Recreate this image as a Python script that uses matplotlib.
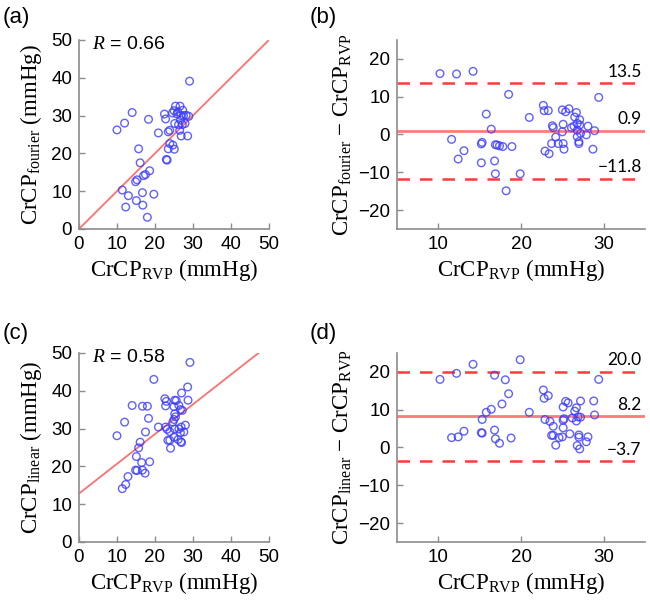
import numpy as np
import matplotlib
matplotlib.use("Agg")
import matplotlib.pyplot as plt

plt.rcParams['font.family'] = ['Liberation Sans', 'DejaVu Sans']
plt.rcParams['mathtext.fontset'] = 'custom'
plt.rcParams['mathtext.rm'] = 'Liberation Serif'
plt.rcParams['mathtext.it'] = 'Liberation Serif:italic'

# (a) CrCP_RVP vs CrCP_fourier
a_rvp = [29.1, 10.0, 12.0, 14.0, 18.3, 15.7, 16.1, 14.9, 15.3, 17.0, 17.5, 18.6,
         11.4, 13.0, 12.3, 15.1, 16.7, 16.8, 19.7, 18.0, 20.9, 22.5, 22.8, 23.0,
         23.2, 23.5, 23.9, 24.7, 25.1, 23.5, 23.9, 25.0, 25.4, 26.6, 25.8, 25.2,
         26.2, 26.7, 26.5, 26.9, 27.2, 27.5, 27.9, 28.2, 28.9, 28.6, 24.6, 26.0,
         26.8, 27.3]
a_fourier = [39.1, 26.2, 28.0, 30.8, 29.0, 21.2, 17.5, 12.5, 13.0, 14.1, 14.4, 15.4,
             10.3, 8.8, 5.8, 7.5, 9.6, 6.3, 9.2, 3.1, 25.4, 30.4, 29.1, 18.4,
             18.2, 21.2, 22.6, 22.2, 21.1, 25.7, 26.1, 31.3, 32.5, 32.5, 30.4, 27.9,
             27.6, 28.8, 26.1, 24.6, 27.6, 30.0, 27.9, 30.1, 29.8, 24.6, 30.7, 31.0,
             30.0, 31.4]

# (b) Bland-Altman, fourier
b_rvp = [10.2, 12.2, 14.2, 18.5, 29.4, 11.6, 12.4, 13.1, 15.2, 15.2, 15.3, 15.8,
         16.4, 16.8, 16.9, 16.9, 17.1, 17.4, 17.8, 18.2, 18.9, 19.9, 21.0, 22.7,
         22.8, 23.3, 22.9, 23.4, 23.8, 23.9, 23.7, 24.2, 24.5, 25.0, 25.4, 25.8,
         25.1, 25.1, 25.2, 25.0, 26.1, 26.4, 26.7, 26.5, 27.1, 26.8, 27.1, 26.8,
         26.8, 27.0, 27.0, 27.2, 27.9, 28.1, 28.9, 28.7]
b_diff = [16.1, 16.0, 16.7, 10.6, 9.8, -1.3, -6.5, -4.3, -7.5, -2.5, -2.1, 5.4,
          1.4, -7.0, -10.4, -2.7, -2.8, -3.0, -3.2, -14.9, -3.2, -10.4, 4.5, 7.7,
          6.3, 6.3, -4.4, -5.1, 2.3, 1.8, -2.4, -0.7, -2.4, 6.5, 6.0, 6.8,
          2.7, -2.4, -3.9, 0.7, 1.8, 2.2, 5.8, 4.6, 3.9, 2.9, 2.5, 1.1,
          -0.6, -1.9, -2.4, 0.3, -0.1, 2.2, 1.0, -3.9]
b_mean, b_upper, b_lower = 0.9, 13.5, -11.8

# (c) CrCP_RVP vs CrCP_linear
c_rvp = [29.2, 19.7, 14.0, 16.7, 18.0, 12.0, 10.0, 18.3, 17.5, 16.1, 15.7, 15.1,
         16.5, 18.6, 14.9, 15.3, 16.7, 17.4, 12.9, 12.3, 11.4, 20.9, 22.6, 23.0,
         22.8, 25.2, 25.6, 26.3, 26.7, 27.2, 27.0, 28.6, 28.7, 25.0, 25.4, 25.0,
         24.7, 22.8, 23.2, 23.9, 25.2, 26.3, 26.9, 28.0, 27.6, 23.4, 23.9, 24.1,
         25.0, 26.1, 26.8, 27.0, 25.2, 26.7]
c_linear = [47.5, 43.0, 36.1, 35.9, 35.9, 31.7, 28.1, 32.7, 29.1, 26.4, 24.9, 22.6,
            21.0, 21.2, 19.0, 18.9, 19.0, 18.2, 17.3, 15.2, 14.1, 30.4, 37.9, 37.2,
            36.0, 37.5, 37.4, 36.1, 35.0, 34.8, 39.4, 41.0, 37.5, 35.8, 33.1, 32.4,
            31.7, 30.4, 29.8, 29.2, 29.9, 29.9, 30.4, 30.9, 29.1, 26.9, 26.9, 24.8,
            27.7, 27.1, 26.5, 26.3, 33.9, 28.9]

# (d) Bland-Altman, linear
d_rvp = [10.2, 12.2, 14.2, 19.9, 16.8, 18.1, 18.5, 17.7, 16.4, 15.8, 15.3, 11.6,
         12.4, 13.1, 15.2, 15.3, 16.8, 16.9, 17.4, 18.8, 21.0, 22.7, 22.8, 23.3,
         22.9, 23.5, 23.9, 23.7, 23.9, 24.2, 24.6, 25.0, 25.1, 25.1, 25.2, 25.1,
         25.4, 25.7, 25.9, 26.5, 26.7, 26.2, 26.7, 26.9, 27.2, 27.2, 27.0, 27.0,
         26.8, 27.1, 27.9, 28.1, 28.8, 28.9, 29.4]
d_diff = [18.0, 19.6, 22.0, 23.2, 19.1, 17.9, 14.2, 11.5, 10.1, 9.3, 7.4, 2.6,
          2.8, 4.3, 3.9, 3.8, 4.6, 2.3, 1.1, 2.5, 9.3, 15.2, 13.0, 13.7,
          7.4, 6.9, 5.6, 3.2, 3.2, 0.6, 2.6, 2.8, 5.2, 7.2, 7.6, 10.7,
          12.2, 11.8, 3.6, 9.6, 10.5, 7.8, 7.0, 8.1, 8.0, 12.3, 3.3, 2.7,
          0.5, -0.4, 1.5, 2.8, 12.3, 8.6, 18.0]
d_mean, d_upper, d_lower = 8.2, 20.0, -3.7

# fitted lines shown in the scatter panels (intercept, slope)
a_line = (0.0, 1.0)
c_line = (12.8, 0.787)

SPINE = '#8c8c8c'
SERIF = ['Liberation Serif', 'DejaVu Serif']
PT = dict(marker='o', s=30, facecolors='none', edgecolors='#3a3aff',
          linewidths=1.0, alpha=0.8, zorder=3)


def style_axes(ax):
    for side in ('top', 'right'):
        ax.spines[side].set_visible(False)
    for side in ('left', 'bottom'):
        ax.spines[side].set_color(SPINE)
        ax.spines[side].set_linewidth(1.2)
    ax.tick_params(direction='in', length=4, width=1, color=SPINE,
                   labelsize=13.5, pad=5)


def scatter_panel(ax, x, y, line, r_text, ylab):
    ax.scatter(x, y, **PT)
    xs = np.array([0, 50])
    ax.plot(xs, line[0] + line[1] * xs, color='#ff7070', lw=1.3, zorder=2)
    ax.set_xlim(0, 50)
    ax.set_ylim(0, 50)
    ax.set_xticks(range(0, 51, 10))
    ax.set_yticks(range(0, 51, 10))
    ax.text(3.5, 48.8, r_text, fontsize=14, va='center', ha='left')
    ax.set_ylabel(ylab, fontsize=16.5, labelpad=5, family=SERIF)
    ax.set_xlabel(r'$\mathrm{CrCP_{RVP}}$ (mmHg)', fontsize=16.5,
                  labelpad=3, family=SERIF)
    style_axes(ax)


def ba_panel(ax, x, d, mean, upper, lower, ylab):
    ax.scatter(x, d, **PT)
    ax.axhline(mean, color='#ff7a7a', lw=2.0, zorder=2)
    ax.axhline(upper, color='#ff3b3b', lw=1.8, ls=(0, (5, 4)), zorder=2)
    ax.axhline(lower, color='#ff3b3b', lw=1.8, ls=(0, (5, 4)), zorder=2)
    for v in (upper, mean, lower):
        lab = ('%.1f' % v).replace('-', '\u2212')
        ax.text(34.6, v + 1.0, lab, ha='right', va='bottom', fontsize=12.5,
                family=['Lato', 'DejaVu Sans'])
    ax.set_xlim(5, 35)
    ax.set_ylim(-25, 25)
    ax.set_xticks([10, 20, 30])
    ax.set_yticks([-20, -10, 0, 10, 20])
    ax.set_ylabel(ylab, fontsize=16.5, labelpad=3, family=SERIF)
    ax.set_xlabel(r'$\mathrm{CrCP_{RVP}}$ (mmHg)', fontsize=16.5,
                  labelpad=3, family=SERIF)
    style_axes(ax)


fig = plt.figure(figsize=(6.5, 6.08), dpi=100)
ax_a = fig.add_axes([0.1215, 0.6234, 0.2923, 0.3109])
ax_b = fig.add_axes([0.6108, 0.6234, 0.3815, 0.3109])
ax_c = fig.add_axes([0.1215, 0.1086, 0.2923, 0.3109])
ax_d = fig.add_axes([0.6108, 0.1086, 0.3815, 0.3109])

scatter_panel(ax_a, a_rvp, a_fourier, a_line, r'$R$ = 0.66',
              r'$\mathrm{CrCP_{fourier}}$ (mmHg)')
ba_panel(ax_b, b_rvp, b_diff, b_mean, b_upper, b_lower,
         '$\\mathrm{CrCP_{fourier}}$ \u2212 $\\mathrm{CrCP_{RVP}}$')
scatter_panel(ax_c, c_rvp, c_linear, c_line, r'$R$ = 0.58',
              r'$\mathrm{CrCP_{linear}}$ (mmHg)')
ba_panel(ax_d, d_rvp, d_diff, d_mean, d_upper, d_lower,
         '$\\mathrm{CrCP_{linear}}$ \u2212 $\\mathrm{CrCP_{RVP}}$')

for lab, (px, py) in zip(['(a)', '(b)', '(c)', '(d)'],
                         [(3, 17), (310, 17), (3, 333), (310, 333)]):
    fig.text(px / 650, 1 - py / 608, lab, fontsize=16, va='center', ha='left')

fig.savefig('out.png', dpi=100)
